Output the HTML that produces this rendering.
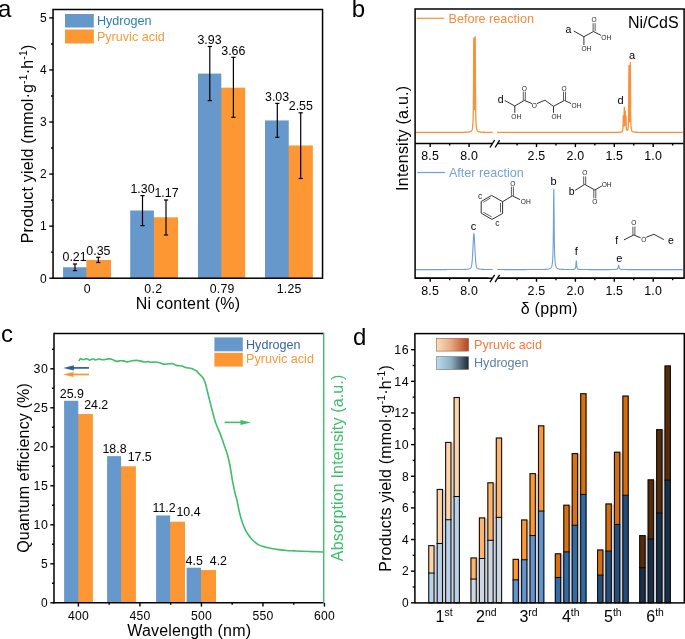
<!DOCTYPE html>
<html><head><meta charset="utf-8"><style>
html,body{margin:0;padding:0;background:#fff;}
svg{display:block;filter:blur(0.35px);}
text{font-family:"Liberation Sans", sans-serif;}
</style></head><body>
<svg width="685" height="639" viewBox="0 0 685 639" font-family='"Liberation Sans", sans-serif'>
<rect width="685" height="639" fill="#fff"/>
<text x="-2" y="17.4" font-size="24" fill="#000" text-anchor="start" >a</text>
<rect x="85.35" y="267.77" width="2" height="10.43" fill="#6798CC" />
<rect x="63.05" y="267.27" width="23.3" height="10.93" fill="#6798CC" />
<rect x="86.35" y="259.98" width="24.65" height="18.22" fill="#FD9734" />
<rect x="152.9" y="217.79" width="2" height="60.41" fill="#6798CC" />
<rect x="130.2" y="210.52" width="23.7" height="67.68" fill="#6798CC" />
<rect x="153.9" y="217.29" width="24.1" height="60.91" fill="#FD9734" />
<rect x="220.3" y="88.16" width="2" height="190.04" fill="#6798CC" />
<rect x="198" y="73.6" width="23.3" height="204.6" fill="#6798CC" />
<rect x="221.3" y="87.66" width="23.9" height="190.54" fill="#FD9734" />
<rect x="287.75" y="145.95" width="2" height="132.25" fill="#6798CC" />
<rect x="265" y="120.46" width="23.75" height="157.74" fill="#6798CC" />
<rect x="288.75" y="145.45" width="24.1" height="132.75" fill="#FD9734" />
<line x1="75" y1="264" x2="75" y2="270.6" stroke="#000" stroke-width="1.2" />
<line x1="72.9" y1="264" x2="77.1" y2="264" stroke="#000" stroke-width="1.2" />
<line x1="72.9" y1="270.6" x2="77.1" y2="270.6" stroke="#000" stroke-width="1.2" />
<line x1="98.3" y1="257.3" x2="98.3" y2="262.5" stroke="#000" stroke-width="1.2" />
<line x1="96.2" y1="257.3" x2="100.4" y2="257.3" stroke="#000" stroke-width="1.2" />
<line x1="96.2" y1="262.5" x2="100.4" y2="262.5" stroke="#000" stroke-width="1.2" />
<line x1="142.5" y1="195.6" x2="142.5" y2="225.6" stroke="#000" stroke-width="1.2" />
<line x1="140.4" y1="195.6" x2="144.6" y2="195.6" stroke="#000" stroke-width="1.2" />
<line x1="140.4" y1="225.6" x2="144.6" y2="225.6" stroke="#000" stroke-width="1.2" />
<line x1="166" y1="200" x2="166" y2="235" stroke="#000" stroke-width="1.2" />
<line x1="163.9" y1="200" x2="168.1" y2="200" stroke="#000" stroke-width="1.2" />
<line x1="163.9" y1="235" x2="168.1" y2="235" stroke="#000" stroke-width="1.2" />
<line x1="209.8" y1="46.5" x2="209.8" y2="100.6" stroke="#000" stroke-width="1.2" />
<line x1="207.7" y1="46.5" x2="211.9" y2="46.5" stroke="#000" stroke-width="1.2" />
<line x1="207.7" y1="100.6" x2="211.9" y2="100.6" stroke="#000" stroke-width="1.2" />
<line x1="233.4" y1="57.3" x2="233.4" y2="117.3" stroke="#000" stroke-width="1.2" />
<line x1="231.3" y1="57.3" x2="235.5" y2="57.3" stroke="#000" stroke-width="1.2" />
<line x1="231.3" y1="117.3" x2="235.5" y2="117.3" stroke="#000" stroke-width="1.2" />
<line x1="277.3" y1="103.4" x2="277.3" y2="137.3" stroke="#000" stroke-width="1.2" />
<line x1="275.2" y1="103.4" x2="279.4" y2="103.4" stroke="#000" stroke-width="1.2" />
<line x1="275.2" y1="137.3" x2="279.4" y2="137.3" stroke="#000" stroke-width="1.2" />
<line x1="300.7" y1="112.8" x2="300.7" y2="178.5" stroke="#000" stroke-width="1.2" />
<line x1="298.6" y1="112.8" x2="302.8" y2="112.8" stroke="#000" stroke-width="1.2" />
<line x1="298.6" y1="178.5" x2="302.8" y2="178.5" stroke="#000" stroke-width="1.2" />
<text x="74.6" y="261.4" font-size="12.4" fill="#000" text-anchor="middle" >0.21</text>
<text x="98.4" y="254.5" font-size="12.4" fill="#000" text-anchor="middle" >0.35</text>
<text x="142.5" y="193.2" font-size="12.4" fill="#000" text-anchor="middle" >1.30</text>
<text x="166.5" y="197.2" font-size="12.4" fill="#000" text-anchor="middle" >1.17</text>
<text x="209.5" y="44.1" font-size="12.4" fill="#000" text-anchor="middle" >3.93</text>
<text x="233.3" y="54.7" font-size="12.4" fill="#000" text-anchor="middle" >3.66</text>
<text x="277.1" y="100.7" font-size="12.4" fill="#000" text-anchor="middle" >3.03</text>
<text x="300.8" y="110.1" font-size="12.4" fill="#000" text-anchor="middle" >2.55</text>
<rect x="53.05" y="9.5" width="269.5" height="268.7" fill="none" stroke="#000" stroke-width="1.5"/>
<line x1="49.3" y1="278.2" x2="53" y2="278.2" stroke="#000" stroke-width="1.4" />
<text x="46.6" y="282.5" font-size="12" fill="#000" text-anchor="end" >0</text>
<line x1="51" y1="252.17" x2="53" y2="252.17" stroke="#000" stroke-width="1.4" />
<line x1="49.3" y1="226.14" x2="53" y2="226.14" stroke="#000" stroke-width="1.4" />
<text x="46.6" y="230.44" font-size="12" fill="#000" text-anchor="end" >1</text>
<line x1="51" y1="200.11" x2="53" y2="200.11" stroke="#000" stroke-width="1.4" />
<line x1="49.3" y1="174.08" x2="53" y2="174.08" stroke="#000" stroke-width="1.4" />
<text x="46.6" y="178.38" font-size="12" fill="#000" text-anchor="end" >2</text>
<line x1="51" y1="148.05" x2="53" y2="148.05" stroke="#000" stroke-width="1.4" />
<line x1="49.3" y1="122.02" x2="53" y2="122.02" stroke="#000" stroke-width="1.4" />
<text x="46.6" y="126.32" font-size="12" fill="#000" text-anchor="end" >3</text>
<line x1="51" y1="95.99" x2="53" y2="95.99" stroke="#000" stroke-width="1.4" />
<line x1="49.3" y1="69.96" x2="53" y2="69.96" stroke="#000" stroke-width="1.4" />
<text x="46.6" y="74.26" font-size="12" fill="#000" text-anchor="end" >4</text>
<line x1="51" y1="43.93" x2="53" y2="43.93" stroke="#000" stroke-width="1.4" />
<line x1="49.3" y1="17.9" x2="53" y2="17.9" stroke="#000" stroke-width="1.4" />
<text x="46.6" y="22.2" font-size="12" fill="#000" text-anchor="end" >5</text>
<text x="87.4" y="293" font-size="12.3" fill="#000" text-anchor="middle" letter-spacing="0.3">0</text>
<text x="153.3" y="293" font-size="12.3" fill="#000" text-anchor="middle" letter-spacing="0.3">0.2</text>
<text x="222.2" y="293" font-size="12.3" fill="#000" text-anchor="middle" letter-spacing="0.3">0.79</text>
<text x="289.2" y="293" font-size="12.3" fill="#000" text-anchor="middle" letter-spacing="0.3">1.25</text>
<text x="188" y="309" font-size="16" fill="#000" text-anchor="middle" letter-spacing="0.22">Ni content (%)</text>
<text x="32.6" y="143.9" font-size="16" fill="#000" text-anchor="middle" transform="rotate(-90 32.6 143.9)"  letter-spacing="0.18">Product yield (mmol·g<tspan font-size="10.4" dy="-6">-1</tspan><tspan dy="6">·h</tspan><tspan font-size="10.4" dy="-6">-1</tspan><tspan dy="6">)</tspan></text>
<rect x="65" y="14" width="28.8" height="13.5" fill="#6798CC" />
<rect x="65" y="29.5" width="28.8" height="14" fill="#FD9734" />
<text x="96.9" y="25.2" font-size="12.6" fill="#2B80AA" text-anchor="start" >Hydrogen</text>
<text x="96.9" y="40.7" font-size="12.6" fill="#F99A3A" text-anchor="start" >Pyruvic acid</text>
<text x="351.8" y="17.3" font-size="24" fill="#000" text-anchor="start" >b</text>
<polyline points="415.8,132.4 417.8,132.4 419.8,132.4 421.8,132.4 423.8,132.39 425.8,132.39 427.8,132.39 429.8,132.39 431.8,132.39 433.8,132.39 435.8,132.39 437.8,132.39 439.8,132.39 441.8,132.39 443.8,132.39 445.8,132.38 447.8,132.38 449.8,132.38 451.8,132.38 453.8,132.37 455.8,132.36 457.8,132.35 459.8,132.34 461.8,132.32 463.8,132.29 463.95,132.28 464.1,132.28 464.25,132.28 464.4,132.27 464.55,132.27 464.7,132.27 464.85,132.26 465,132.26 465.15,132.25 465.3,132.25 465.45,132.24 465.6,132.24 465.75,132.23 465.9,132.23 466.05,132.22 466.2,132.21 466.35,132.2 466.5,132.2 466.65,132.19 466.8,132.18 466.95,132.17 467.1,132.16 467.25,132.15 467.4,132.14 467.55,132.13 467.7,132.12 467.85,132.1 468,132.09 468.15,132.07 468.3,132.06 468.45,132.04 468.6,132.02 468.75,132 468.9,131.98 469.05,131.95 469.2,131.93 469.35,131.9 469.5,131.86 469.65,131.83 469.8,131.79 469.95,131.74 470.1,131.7 470.25,131.64 470.4,131.58 470.55,131.51 470.7,131.43 470.85,131.34 471,131.24 471.15,131.12 471.3,130.98 471.45,130.81 471.6,130.62 471.75,130.38 471.9,130.09 472.05,129.73 472.2,129.28 472.35,128.69 472.5,127.92 472.65,126.85 472.8,125.34 472.95,123.1 473.1,119.55 473.25,113.52 473.4,102.44 473.55,81.06 473.7,47.38 473.85,37.96 474,68.88 474.15,93.45 474.3,105.16 474.45,109.44 474.6,108.75 474.75,102.66 474.9,87.72 475.05,59.08 475.2,36.75 475.35,60.41 475.5,90.56 475.65,107.42 475.8,116.21 475.95,121.11 476.1,124.08 476.25,126 476.4,127.32 476.55,128.25 476.7,128.95 476.85,129.48 477,129.89 477.15,130.22 477.3,130.48 477.45,130.7 477.6,130.89 477.75,131.04 477.9,131.17 478.05,131.28 478.2,131.38 478.35,131.47 478.5,131.54 478.65,131.61 478.8,131.66 478.95,131.72 479.1,131.76 479.25,131.81 479.4,131.84 479.55,131.88 479.7,131.91 479.85,131.94 480,131.96 480.15,131.99 480.3,132.01 480.45,132.03 480.6,132.05 480.75,132.06 480.9,132.08 481.05,132.1 481.2,132.11 481.35,132.12 481.5,132.13 481.65,132.15 481.8,132.16 481.95,132.17 482.1,132.18 482.25,132.18 482.4,132.19 482.55,132.2 482.7,132.21 482.85,132.21 483,132.22 483.15,132.23 483.3,132.23 483.45,132.24 483.6,132.24 483.75,132.25 483.9,132.25 484.05,132.26 484.2,132.26 484.35,132.27 484.5,132.27 484.65,132.28 484.8,132.28 484.95,132.28 485.1,132.29 485.25,132.29 485.4,132.29 485.55,132.29 485.7,132.3 485.85,132.3 486,132.3 486.15,132.31 486.3,132.31 486.45,132.31 486.6,132.31 486.75,132.31 486.9,132.32 487.05,132.32 487.2,132.32 487.35,132.32 489.35,132.34 491.35,132.35 492.7,132.36" fill="none" stroke="#F7923A" stroke-width="1.3" stroke-linejoin="round"/>
<polyline points="497.1,132.37 499.1,132.38 501.1,132.38 503.1,132.38 505.1,132.39 507.1,132.39 509.1,132.39 511.1,132.39 513.1,132.39 515.1,132.39 517.1,132.39 519.1,132.39 521.1,132.39 523.1,132.39 525.1,132.39 527.1,132.39 529.1,132.39 531.1,132.4 533.1,132.4 535.1,132.4 537.1,132.4 539.1,132.4 541.1,132.4 543.1,132.4 545.1,132.4 547.1,132.4 549.1,132.4 551.1,132.4 553.1,132.4 555.1,132.4 557.1,132.4 559.1,132.4 561.1,132.4 563.1,132.4 565.1,132.4 567.1,132.4 569.1,132.4 571.1,132.4 573.1,132.4 575.1,132.4 577.1,132.4 579.1,132.4 581.1,132.39 583.1,132.39 585.1,132.39 587.1,132.39 589.1,132.39 591.1,132.39 593.1,132.39 595.1,132.39 597.1,132.39 599.1,132.39 601.1,132.39 603.1,132.38 605.1,132.38 607.1,132.38 609.1,132.37 611.1,132.37 613.1,132.36 613.25,132.36 613.4,132.35 613.55,132.35 613.7,132.35 613.85,132.35 614,132.35 614.15,132.35 614.3,132.35 614.45,132.35 614.6,132.34 614.75,132.34 614.9,132.34 615.05,132.34 615.2,132.34 615.35,132.34 615.5,132.34 615.65,132.33 615.8,132.33 615.95,132.33 616.1,132.33 616.25,132.32 616.4,132.32 616.55,132.32 616.7,132.32 616.85,132.31 617,132.31 617.15,132.31 617.3,132.31 617.45,132.3 617.6,132.3 617.75,132.29 617.9,132.29 618.05,132.29 618.2,132.28 618.35,132.28 618.5,132.27 618.65,132.27 618.8,132.26 618.95,132.25 619.1,132.24 619.25,132.24 619.4,132.23 619.55,132.22 619.7,132.21 619.85,132.2 620,132.18 620.15,132.17 620.3,132.16 620.45,132.14 620.6,132.12 620.75,132.1 620.9,132.07 621.05,132.04 621.2,132.01 621.35,131.97 621.5,131.92 621.65,131.86 621.8,131.78 621.95,131.69 622.1,131.56 622.25,131.39 622.4,131.15 622.55,130.79 622.7,130.18 622.85,129.07 623,126.72 623.15,121.38 623.3,115.53 623.45,120.71 623.6,125.23 623.75,126.34 623.9,125.19 624.05,120.86 624.2,110.82 624.35,107.26 624.5,117.94 624.65,123.7 624.8,125.32 624.95,124.35 625.1,119.81 625.25,111.12 625.4,113.73 625.55,121.19 625.7,123.1 625.85,120.18 626,116 626.15,121.52 626.3,126.45 626.45,128.61 626.6,129.6 626.75,130.1 626.9,130.35 627.05,130.46 627.2,130.47 627.35,130.39 627.5,130.23 627.65,129.95 627.8,129.53 627.95,128.89 628.1,127.89 628.25,126.25 628.4,123.31 628.55,117.43 628.7,104.07 628.85,75.4 629,65.33 629.15,95.63 629.3,112.74 629.45,119.44 629.6,121.7 629.75,121.33 629.9,118.03 630.05,108.99 630.2,86.72 630.35,62.41 630.5,87.33 630.65,110.28 630.8,120.21 630.95,124.78 631.1,127.18 631.25,128.58 631.4,129.47 631.55,130.07 631.7,130.5 631.85,130.81 632,131.05 632.15,131.24 632.3,131.39 632.45,131.51 632.6,131.61 632.75,131.69 632.9,131.76 633.05,131.82 633.2,131.87 633.35,131.91 633.5,131.95 633.65,131.99 633.8,132.02 633.95,132.04 634.1,132.07 634.25,132.09 634.4,132.11 634.55,132.12 634.7,132.14 634.85,132.16 635,132.17 635.15,132.18 635.3,132.19 635.45,132.2 635.6,132.21 635.75,132.22 635.9,132.23 636.05,132.24 636.2,132.24 636.35,132.25 636.5,132.26 636.65,132.26 636.8,132.27 636.95,132.27 637.1,132.28 637.25,132.28 637.4,132.29 637.55,132.29 637.7,132.29 637.85,132.3 638,132.3 638.15,132.31 638.3,132.31 638.45,132.31 638.6,132.31 638.75,132.32 638.9,132.32 639.05,132.32 639.2,132.32 639.35,132.33 639.5,132.33 639.65,132.33 639.8,132.33 639.95,132.33 640.1,132.34 640.25,132.34 640.4,132.34 640.55,132.34 640.7,132.34 640.85,132.34 641,132.34 641.15,132.35 641.3,132.35 641.45,132.35 641.6,132.35 641.75,132.35 641.9,132.35 642.05,132.35 642.2,132.35 642.35,132.36 642.5,132.36 644.5,132.37 646.5,132.37 648.5,132.38 650.5,132.38 652.5,132.39 654.5,132.39 656.5,132.39 658.5,132.39 660.5,132.39 662.5,132.39 664.5,132.39 666.5,132.39 668.5,132.39 670.5,132.39 672.5,132.4 674.5,132.4 676.5,132.4 678.5,132.4 680.5,132.4 682.5,132.4 682.8,132.4" fill="none" stroke="#F7923A" stroke-width="1.3" stroke-linejoin="round"/>
<polyline points="415.8,269.59 417.8,269.59 419.8,269.59 421.8,269.59 423.8,269.59 425.8,269.59 427.8,269.59 429.8,269.59 431.8,269.59 433.8,269.59 435.8,269.59 437.8,269.59 439.8,269.58 441.8,269.58 443.8,269.58 445.8,269.58 447.8,269.57 449.8,269.57 451.8,269.56 453.8,269.56 455.8,269.55 457.8,269.53 459.8,269.51 461.8,269.49 463.8,269.44 463.95,269.43 464.1,269.43 464.25,269.42 464.4,269.42 464.55,269.41 464.7,269.4 464.85,269.4 465,269.39 465.15,269.38 465.3,269.38 465.45,269.37 465.6,269.36 465.75,269.35 465.9,269.34 466.05,269.33 466.2,269.32 466.35,269.31 466.5,269.3 466.65,269.29 466.8,269.28 466.95,269.26 467.1,269.25 467.25,269.23 467.4,269.22 467.55,269.2 467.7,269.18 467.85,269.16 468,269.14 468.15,269.11 468.3,269.09 468.45,269.06 468.6,269.03 468.75,269 468.9,268.96 469.05,268.93 469.2,268.89 469.35,268.84 469.5,268.79 469.65,268.74 469.8,268.68 469.95,268.61 470.1,268.53 470.25,268.44 470.4,268.33 470.55,268.2 470.7,268.05 470.85,267.85 471,267.6 471.15,267.28 471.3,266.86 471.45,266.32 471.6,265.62 471.75,264.72 471.9,263.59 472.05,262.19 472.2,260.5 472.35,258.48 472.5,256.14 472.65,253.5 472.8,250.61 472.95,247.53 473.1,244.38 473.25,241.3 473.4,238.47 473.55,236.12 473.7,234.45 473.85,233.65 474,233.81 474.15,234.92 474.3,236.84 474.45,239.37 474.6,242.3 474.75,245.43 474.9,248.57 475.05,251.6 475.2,254.42 475.35,256.96 475.5,259.19 475.65,261.1 475.8,262.69 475.95,264 476.1,265.04 476.25,265.87 476.4,266.51 476.55,267.01 476.7,267.39 476.85,267.69 477,267.92 477.15,268.1 477.3,268.25 477.45,268.37 477.6,268.47 477.75,268.56 477.9,268.63 478.05,268.7 478.2,268.75 478.35,268.81 478.5,268.86 478.65,268.9 478.8,268.94 478.95,268.98 479.1,269.01 479.25,269.04 479.4,269.07 479.55,269.1 479.7,269.12 479.85,269.14 480,269.16 480.15,269.18 480.3,269.2 480.45,269.22 480.6,269.24 480.75,269.25 480.9,269.27 481.05,269.28 481.2,269.29 481.35,269.3 481.5,269.31 481.65,269.33 481.8,269.34 481.95,269.34 482.1,269.35 482.25,269.36 482.4,269.37 482.55,269.38 482.7,269.39 482.85,269.39 483,269.4 483.15,269.41 483.3,269.41 483.45,269.42 483.6,269.42 483.75,269.43 483.9,269.43 484.05,269.44 484.2,269.44 484.35,269.45 484.5,269.45 484.65,269.45 484.8,269.46 484.95,269.46 485.1,269.47 485.25,269.47 485.4,269.47 485.55,269.48 485.7,269.48 485.85,269.48 486,269.48 488,269.51 490,269.53 492,269.55 492.7,269.55" fill="none" stroke="#6F9FD6" stroke-width="1.1" stroke-linejoin="round"/>
<polyline points="497.1,269.56 499.1,269.57 501.1,269.57 503.1,269.57 505.1,269.58 507.1,269.58 509.1,269.58 511.1,269.58 513.1,269.58 515.1,269.58 517.1,269.58 519.1,269.58 521.1,269.58 523.1,269.58 525.1,269.58 527.1,269.57 529.1,269.57 531.1,269.57 533.1,269.56 535.1,269.55 537.1,269.54 539.1,269.53 541.1,269.51 543.1,269.47 543.25,269.47 543.4,269.46 543.55,269.46 543.7,269.45 543.85,269.45 544,269.45 544.15,269.44 544.3,269.44 544.45,269.43 544.6,269.42 544.75,269.42 544.9,269.41 545.05,269.41 545.2,269.4 545.35,269.39 545.5,269.39 545.65,269.38 545.8,269.37 545.95,269.36 546.1,269.35 546.25,269.34 546.4,269.33 546.55,269.32 546.7,269.31 546.85,269.3 547,269.28 547.15,269.27 547.3,269.25 547.45,269.24 547.6,269.22 547.75,269.2 547.9,269.18 548.05,269.16 548.2,269.14 548.35,269.11 548.5,269.08 548.65,269.05 548.8,269.02 548.95,268.99 549.1,268.95 549.25,268.9 549.4,268.86 549.55,268.8 549.7,268.75 549.85,268.68 550,268.61 550.15,268.53 550.3,268.43 550.45,268.33 550.6,268.21 550.75,268.07 550.9,267.91 551.05,267.73 551.2,267.51 551.35,267.26 551.5,266.95 551.65,266.59 551.8,266.14 551.95,265.59 552.1,264.89 552.25,264 552.4,262.84 552.55,261.3 552.7,259.19 552.85,256.22 553,251.92 553.15,245.5 553.3,235.75 553.45,221.32 553.6,202.91 553.75,188.94 553.9,192.18 554.05,209.19 554.2,226.7 554.35,239.46 554.5,247.94 554.65,253.54 554.8,257.33 554.95,259.97 555.1,261.86 555.25,263.26 555.4,264.32 555.55,265.14 555.7,265.78 555.85,266.3 556,266.72 556.15,267.06 556.3,267.35 556.45,267.59 556.6,267.79 556.75,267.97 556.9,268.12 557.05,268.25 557.2,268.36 557.35,268.46 557.5,268.55 557.65,268.63 557.8,268.7 557.95,268.76 558.1,268.82 558.25,268.87 558.4,268.92 558.55,268.96 558.7,269 558.85,269.03 559,269.06 559.15,269.09 559.3,269.12 559.45,269.14 559.6,269.17 559.75,269.19 559.9,269.21 560.05,269.22 560.2,269.24 560.35,269.26 560.5,269.27 560.65,269.29 560.8,269.3 560.95,269.31 561.1,269.32 561.25,269.33 561.4,269.34 561.55,269.35 561.7,269.36 561.85,269.37 562,269.38 562.15,269.38 562.3,269.39 562.45,269.4 562.6,269.4 562.75,269.41 562.9,269.42 563.05,269.42 563.2,269.43 563.35,269.43 563.5,269.44 563.65,269.44 563.8,269.44 563.95,269.45 564.1,269.45 564.25,269.46 564.4,269.46 564.55,269.46 564.7,269.47 564.85,269.47 565,269.47 565.15,269.47 565.3,269.48 565.45,269.48 565.6,269.48 565.75,269.48 565.9,269.49 566.05,269.49 566.2,269.49 566.35,269.49 566.5,269.49 566.65,269.49 566.8,269.5 566.95,269.5 567.1,269.5 567.25,269.5 567.4,269.5 567.55,269.5 567.7,269.5 567.85,269.5 568,269.51 568.15,269.51 568.3,269.51 568.45,269.51 568.6,269.51 568.75,269.51 568.9,269.51 569.05,269.51 569.2,269.51 569.35,269.51 569.5,269.51 569.65,269.51 569.8,269.51 569.95,269.51 570.1,269.51 570.25,269.51 570.4,269.5 570.55,269.5 570.7,269.5 570.85,269.5 571,269.5 571.15,269.5 571.3,269.49 571.45,269.49 571.6,269.49 571.75,269.48 571.9,269.48 572.05,269.48 572.2,269.47 572.35,269.46 572.5,269.46 572.65,269.45 572.8,269.44 572.95,269.43 573.1,269.42 573.25,269.41 573.4,269.39 573.55,269.37 573.7,269.35 573.85,269.33 574,269.3 574.15,269.26 574.3,269.22 574.45,269.16 574.6,269.09 574.75,269 574.9,268.89 575.05,268.73 575.2,268.52 575.35,268.21 575.5,267.77 575.65,267.1 575.8,266.06 575.95,264.47 576.1,262.37 576.25,260.71 576.4,261.1 576.55,263.1 576.7,265.07 576.85,266.46 577,267.36 577.15,267.94 577.3,268.33 577.45,268.6 577.6,268.79 577.75,268.94 577.9,269.04 578.05,269.13 578.2,269.19 578.35,269.24 578.5,269.29 578.65,269.32 578.8,269.35 578.95,269.37 579.1,269.4 579.25,269.41 579.4,269.43 579.55,269.44 579.7,269.45 579.85,269.46 580,269.47 580.15,269.48 580.3,269.49 580.45,269.49 580.6,269.5 580.75,269.51 580.9,269.51 581.05,269.51 581.2,269.52 581.35,269.52 581.5,269.53 581.65,269.53 581.8,269.53 581.95,269.53 582.1,269.54 582.25,269.54 582.4,269.54 582.55,269.54 582.7,269.55 582.85,269.55 583,269.55 583.15,269.55 583.3,269.55 583.45,269.55 583.6,269.55 583.75,269.56 583.9,269.56 584.05,269.56 584.2,269.56 584.35,269.56 584.5,269.56 584.65,269.56 584.8,269.56 584.95,269.56 585.1,269.56 585.25,269.56 585.4,269.57 585.55,269.57 585.7,269.57 585.85,269.57 586,269.57 586.15,269.57 586.3,269.57 586.45,269.57 586.6,269.57 586.75,269.57 586.9,269.57 587.05,269.57 587.2,269.57 587.35,269.57 587.5,269.57 587.65,269.57 587.8,269.57 587.95,269.57 588.1,269.57 588.25,269.58 588.4,269.58 590.4,269.58 592.4,269.58 594.4,269.58 596.4,269.58 598.4,269.59 600.4,269.59 602.4,269.59 604.4,269.58 606.4,269.58 608.4,269.58 608.55,269.58 608.7,269.58 608.85,269.58 609,269.58 609.15,269.58 609.3,269.58 609.45,269.58 609.6,269.58 609.75,269.58 609.9,269.58 610.05,269.58 610.2,269.57 610.35,269.57 610.5,269.57 610.65,269.57 610.8,269.57 610.95,269.57 611.1,269.57 611.25,269.57 611.4,269.57 611.55,269.57 611.7,269.57 611.85,269.56 612,269.56 612.15,269.56 612.3,269.56 612.45,269.56 612.6,269.56 612.75,269.56 612.9,269.55 613.05,269.55 613.2,269.55 613.35,269.55 613.5,269.54 613.65,269.54 613.8,269.54 613.95,269.53 614.1,269.53 614.25,269.52 614.4,269.52 614.55,269.51 614.7,269.51 614.85,269.5 615,269.49 615.15,269.49 615.3,269.48 615.45,269.46 615.6,269.45 615.75,269.44 615.9,269.42 616.05,269.4 616.2,269.38 616.35,269.35 616.5,269.31 616.65,269.27 616.8,269.22 616.95,269.15 617.1,269.07 617.25,268.97 617.4,268.83 617.55,268.65 617.7,268.4 617.85,268.06 618,267.59 618.15,266.96 618.3,266.2 618.45,265.5 618.6,265.19 618.75,265.5 618.9,266.2 619.05,266.96 619.2,267.59 619.35,268.06 619.5,268.4 619.65,268.65 619.8,268.83 619.95,268.97 620.1,269.07 620.25,269.16 620.4,269.22 620.55,269.27 620.7,269.31 620.85,269.35 621,269.38 621.15,269.4 621.3,269.42 621.45,269.44 621.6,269.45 621.75,269.47 621.9,269.48 622.05,269.49 622.2,269.5 622.35,269.5 622.5,269.51 622.65,269.52 622.8,269.52 622.95,269.53 623.1,269.53 623.25,269.53 623.4,269.54 623.55,269.54 623.7,269.55 623.85,269.55 624,269.55 624.15,269.55 624.3,269.56 624.45,269.56 624.6,269.56 624.75,269.56 624.9,269.56 625.05,269.56 625.2,269.57 625.35,269.57 625.5,269.57 625.65,269.57 625.8,269.57 625.95,269.57 626.1,269.57 626.25,269.57 626.4,269.57 626.55,269.58 626.7,269.58 626.85,269.58 627,269.58 627.15,269.58 627.3,269.58 627.45,269.58 627.6,269.58 627.75,269.58 627.9,269.58 628.05,269.58 628.2,269.58 628.35,269.58 628.5,269.58 628.65,269.58 628.8,269.58 628.95,269.58 629.1,269.58 629.25,269.58 629.4,269.58 629.55,269.59 629.7,269.59 629.85,269.59 630,269.59 630.15,269.59 630.3,269.59 630.45,269.59 630.6,269.59 630.75,269.59 632.75,269.59 634.75,269.59 636.75,269.59 638.75,269.59 640.75,269.59 642.75,269.59 644.75,269.6 646.75,269.6 648.75,269.6 650.75,269.6 652.75,269.6 654.75,269.6 656.75,269.6 658.75,269.6 660.75,269.6 662.75,269.6 664.75,269.6 666.75,269.6 668.75,269.6 670.75,269.6 672.75,269.6 674.75,269.6 676.75,269.6 678.75,269.6 680.75,269.6 682.75,269.6 682.8,269.6" fill="none" stroke="#6F9FD6" stroke-width="1.1" stroke-linejoin="round"/>
<rect x="415.1" y="9.0" width="269.0" height="269.2" fill="none" stroke="#000" stroke-width="1.5"/>
<rect x="488.5" y="142.3" width="11" height="2.4" fill="#fff"/>
<line x1="415" y1="143.5" x2="492.4" y2="143.5" stroke="#000" stroke-width="1.5" />
<line x1="497.5" y1="143.5" x2="683.5" y2="143.5" stroke="#000" stroke-width="1.5" />
<line x1="490" y1="147.5" x2="494.6" y2="140.1" stroke="#000" stroke-width="1.3" />
<line x1="495.1" y1="147.5" x2="499.6" y2="140.1" stroke="#000" stroke-width="1.3" />
<line x1="430.2" y1="143.5" x2="430.2" y2="147.1" stroke="#000" stroke-width="1.4" />
<text x="430.2" y="160.4" font-size="12.4" fill="#000" text-anchor="middle" letter-spacing="0.2">8.5</text>
<line x1="469.1" y1="143.5" x2="469.1" y2="147.1" stroke="#000" stroke-width="1.4" />
<text x="469.1" y="160.4" font-size="12.4" fill="#000" text-anchor="middle" letter-spacing="0.2">8.0</text>
<line x1="536.5" y1="143.5" x2="536.5" y2="147.1" stroke="#000" stroke-width="1.4" />
<text x="536.5" y="160.4" font-size="12.4" fill="#000" text-anchor="middle" letter-spacing="0.2">2.5</text>
<line x1="575.4" y1="143.5" x2="575.4" y2="147.1" stroke="#000" stroke-width="1.4" />
<text x="575.4" y="160.4" font-size="12.4" fill="#000" text-anchor="middle" letter-spacing="0.2">2.0</text>
<line x1="614.3" y1="143.5" x2="614.3" y2="147.1" stroke="#000" stroke-width="1.4" />
<text x="614.3" y="160.4" font-size="12.4" fill="#000" text-anchor="middle" letter-spacing="0.2">1.5</text>
<line x1="653.2" y1="143.5" x2="653.2" y2="147.1" stroke="#000" stroke-width="1.4" />
<text x="653.2" y="160.4" font-size="12.4" fill="#000" text-anchor="middle" letter-spacing="0.2">1.0</text>
<line x1="449.65" y1="143.5" x2="449.65" y2="145.5" stroke="#000" stroke-width="1.4" />
<line x1="517.05" y1="143.5" x2="517.05" y2="145.5" stroke="#000" stroke-width="1.4" />
<line x1="555.95" y1="143.5" x2="555.95" y2="145.5" stroke="#000" stroke-width="1.4" />
<line x1="594.85" y1="143.5" x2="594.85" y2="145.5" stroke="#000" stroke-width="1.4" />
<line x1="633.75" y1="143.5" x2="633.75" y2="145.5" stroke="#000" stroke-width="1.4" />
<line x1="672.65" y1="143.5" x2="672.65" y2="145.5" stroke="#000" stroke-width="1.4" />
<rect x="488.5" y="277" width="11" height="2.4" fill="#fff"/>
<line x1="415" y1="278.2" x2="492.4" y2="278.2" stroke="#000" stroke-width="1.5" />
<line x1="497.5" y1="278.2" x2="683.5" y2="278.2" stroke="#000" stroke-width="1.5" />
<line x1="490" y1="282.2" x2="494.6" y2="274.8" stroke="#000" stroke-width="1.3" />
<line x1="495.1" y1="282.2" x2="499.6" y2="274.8" stroke="#000" stroke-width="1.3" />
<line x1="430.2" y1="278.2" x2="430.2" y2="281.8" stroke="#000" stroke-width="1.4" />
<text x="430.2" y="295.1" font-size="12.4" fill="#000" text-anchor="middle" letter-spacing="0.2">8.5</text>
<line x1="469.1" y1="278.2" x2="469.1" y2="281.8" stroke="#000" stroke-width="1.4" />
<text x="469.1" y="295.1" font-size="12.4" fill="#000" text-anchor="middle" letter-spacing="0.2">8.0</text>
<line x1="536.5" y1="278.2" x2="536.5" y2="281.8" stroke="#000" stroke-width="1.4" />
<text x="536.5" y="295.1" font-size="12.4" fill="#000" text-anchor="middle" letter-spacing="0.2">2.5</text>
<line x1="575.4" y1="278.2" x2="575.4" y2="281.8" stroke="#000" stroke-width="1.4" />
<text x="575.4" y="295.1" font-size="12.4" fill="#000" text-anchor="middle" letter-spacing="0.2">2.0</text>
<line x1="614.3" y1="278.2" x2="614.3" y2="281.8" stroke="#000" stroke-width="1.4" />
<text x="614.3" y="295.1" font-size="12.4" fill="#000" text-anchor="middle" letter-spacing="0.2">1.5</text>
<line x1="653.2" y1="278.2" x2="653.2" y2="281.8" stroke="#000" stroke-width="1.4" />
<text x="653.2" y="295.1" font-size="12.4" fill="#000" text-anchor="middle" letter-spacing="0.2">1.0</text>
<line x1="449.65" y1="278.2" x2="449.65" y2="280.2" stroke="#000" stroke-width="1.4" />
<line x1="517.05" y1="278.2" x2="517.05" y2="280.2" stroke="#000" stroke-width="1.4" />
<line x1="555.95" y1="278.2" x2="555.95" y2="280.2" stroke="#000" stroke-width="1.4" />
<line x1="594.85" y1="278.2" x2="594.85" y2="280.2" stroke="#000" stroke-width="1.4" />
<line x1="633.75" y1="278.2" x2="633.75" y2="280.2" stroke="#000" stroke-width="1.4" />
<line x1="672.65" y1="278.2" x2="672.65" y2="280.2" stroke="#000" stroke-width="1.4" />
<text x="549.3" y="314.3" font-size="16" fill="#000" text-anchor="middle" letter-spacing="0.3">δ (ppm)</text>
<text x="408" y="138.3" font-size="16" fill="#000" text-anchor="middle" transform="rotate(-90 408 138.3)"  letter-spacing="0.24">Intensity (a.u.)</text>
<line x1="416.6" y1="18.3" x2="444.2" y2="18.3" stroke="#F7923A" stroke-width="1.2" />
<text x="448.5" y="23.1" font-size="12.6" fill="#F68B3E" text-anchor="start" >Before reaction</text>
<line x1="417.3" y1="172.5" x2="445.2" y2="172.5" stroke="#6F9FD6" stroke-width="1.2" />
<text x="448.9" y="176.8" font-size="12.6" fill="#74A2D8" text-anchor="start" >After reaction</text>
<text x="628" y="28.2" font-size="16" fill="#000" text-anchor="start" >Ni/CdS</text>
<text x="632" y="58.6" font-size="11" fill="#000" text-anchor="middle" >a</text>
<text x="620.6" y="104.4" font-size="11" fill="#000" text-anchor="middle" >d</text>
<text x="473.6" y="229.6" font-size="11" fill="#000" text-anchor="middle" >c</text>
<text x="553.5" y="185.2" font-size="11" fill="#000" text-anchor="middle" >b</text>
<text x="576.2" y="255.4" font-size="11" fill="#000" text-anchor="middle" >f</text>
<text x="619.3" y="262.2" font-size="11" fill="#000" text-anchor="middle" >e</text>
<text x="568.5" y="32.6" font-size="10.5" fill="#000" text-anchor="middle" >a</text>
<polyline points="573.8,31 583.9,36.7 593.5,31.5 601,35.4" fill="none" stroke="#1a1a1a" stroke-width="0.9"/>
<line x1="583.9" y1="36.7" x2="583.9" y2="45" stroke="#1a1a1a" stroke-width="0.9" />
<line x1="593.1" y1="23.1" x2="593.1" y2="31.2" stroke="#1a1a1a" stroke-width="0.7" />
<line x1="595.1" y1="23.1" x2="595.1" y2="31.2" stroke="#1a1a1a" stroke-width="0.7" />
<text x="594" y="22.3" font-size="6.6" fill="#1a1a1a" text-anchor="middle" >O</text>
<text x="606.3" y="39.6" font-size="6.6" fill="#1a1a1a" text-anchor="middle" >OH</text>
<text x="586.4" y="50.7" font-size="6.6" fill="#1a1a1a" text-anchor="middle" >OH</text>
<text x="500.6" y="103.3" font-size="10.5" fill="#000" text-anchor="middle" >d</text>
<polyline points="504.6,100.4 514.8,106 524.3,100.4 532,103.6" fill="none" stroke="#1a1a1a" stroke-width="0.9"/>
<polyline points="536.9,103.6 544.9,100.2 553.5,106.3 564.5,100.4 571.2,103.6" fill="none" stroke="#1a1a1a" stroke-width="0.9"/>
<line x1="514.8" y1="106" x2="514.8" y2="112.8" stroke="#1a1a1a" stroke-width="0.9" />
<line x1="553.5" y1="106.3" x2="553.5" y2="112.8" stroke="#1a1a1a" stroke-width="0.9" />
<line x1="523.3" y1="91.7" x2="523.3" y2="100.4" stroke="#1a1a1a" stroke-width="0.7" />
<line x1="525.3" y1="91.7" x2="525.3" y2="100.4" stroke="#1a1a1a" stroke-width="0.7" />
<line x1="563.5" y1="91.7" x2="563.5" y2="100.4" stroke="#1a1a1a" stroke-width="0.7" />
<line x1="565.5" y1="91.7" x2="565.5" y2="100.4" stroke="#1a1a1a" stroke-width="0.7" />
<text x="524.3" y="91" font-size="6.6" fill="#1a1a1a" text-anchor="middle" >O</text>
<text x="564.1" y="91" font-size="6.6" fill="#1a1a1a" text-anchor="middle" >O</text>
<text x="534.2" y="108" font-size="6.6" fill="#1a1a1a" text-anchor="middle" >O</text>
<text x="576.5" y="108" font-size="6.6" fill="#1a1a1a" text-anchor="middle" >OH</text>
<text x="516.3" y="119.4" font-size="6.6" fill="#1a1a1a" text-anchor="middle" >OH</text>
<text x="556.4" y="119.4" font-size="6.6" fill="#1a1a1a" text-anchor="middle" >OH</text>
<polyline points="491.6,195.4 502.6,201.7 502.6,213.5 491.9,219.4 481.2,213.2 481.2,201.5 491.6,195.4" fill="none" stroke="#1a1a1a" stroke-width="0.9"/>
<line x1="490.5" y1="197.9" x2="483.4" y2="202.3" stroke="#1a1a1a" stroke-width="0.7" />
<line x1="500.5" y1="203" x2="500.5" y2="212.3" stroke="#1a1a1a" stroke-width="0.7" />
<line x1="483.3" y1="212.2" x2="491.8" y2="217" stroke="#1a1a1a" stroke-width="0.7" />
<polyline points="502.6,201.7 512.4,195.8 520,199.6" fill="none" stroke="#1a1a1a" stroke-width="0.9"/>
<line x1="511.4" y1="186.6" x2="511.4" y2="195.8" stroke="#1a1a1a" stroke-width="0.7" />
<line x1="513.4" y1="186.6" x2="513.4" y2="195.8" stroke="#1a1a1a" stroke-width="0.7" />
<text x="512.7" y="185.6" font-size="6.6" fill="#1a1a1a" text-anchor="middle" >O</text>
<text x="525.7" y="204" font-size="6.6" fill="#1a1a1a" text-anchor="middle" >OH</text>
<text x="480.2" y="199.4" font-size="8.6" fill="#1a1a1a" text-anchor="middle" >c</text>
<text x="497.3" y="226.4" font-size="8.6" fill="#1a1a1a" text-anchor="middle" >c</text>
<text x="571.7" y="194.8" font-size="10.5" fill="#000" text-anchor="middle" >b</text>
<polyline points="575,190.4 584.7,184.4 594.8,190 601.8,186" fill="none" stroke="#1a1a1a" stroke-width="0.9"/>
<line x1="583.7" y1="176.4" x2="583.7" y2="184.4" stroke="#1a1a1a" stroke-width="0.7" />
<line x1="585.7" y1="176.4" x2="585.7" y2="184.4" stroke="#1a1a1a" stroke-width="0.7" />
<line x1="593.8" y1="190" x2="593.8" y2="198.3" stroke="#1a1a1a" stroke-width="0.7" />
<line x1="595.8" y1="190" x2="595.8" y2="198.3" stroke="#1a1a1a" stroke-width="0.7" />
<text x="584.8" y="175" font-size="6.6" fill="#1a1a1a" text-anchor="middle" >O</text>
<text x="594.8" y="203.5" font-size="6.6" fill="#1a1a1a" text-anchor="middle" >O</text>
<text x="606.6" y="186.5" font-size="6.6" fill="#1a1a1a" text-anchor="middle" >OH</text>
<text x="616.6" y="243.6" font-size="10.5" fill="#000" text-anchor="middle" >f</text>
<text x="670.8" y="244.2" font-size="10.5" fill="#000" text-anchor="middle" >e</text>
<polyline points="623.9,239.9 633.9,234.9 640.6,237.9" fill="none" stroke="#1a1a1a" stroke-width="0.9"/>
<polyline points="646.3,237.2 653.9,234.3 663.8,239.6" fill="none" stroke="#1a1a1a" stroke-width="0.9"/>
<line x1="632.9" y1="226.6" x2="632.9" y2="234.9" stroke="#1a1a1a" stroke-width="0.7" />
<line x1="634.9" y1="226.6" x2="634.9" y2="234.9" stroke="#1a1a1a" stroke-width="0.7" />
<text x="633.8" y="225.3" font-size="6.6" fill="#1a1a1a" text-anchor="middle" >O</text>
<text x="643.7" y="242.3" font-size="6.6" fill="#1a1a1a" text-anchor="middle" >O</text>
<text x="1" y="342.3" font-size="24" fill="#000" text-anchor="start" >c</text>
<rect x="77.3" y="414.54" width="2" height="188.26" fill="#6798CC" />
<rect x="64.1" y="400.78" width="14.2" height="202.02" fill="#6798CC" />
<rect x="78.3" y="414.04" width="14.6" height="188.76" fill="#FD9734" />
<rect x="120.1" y="466.8" width="2" height="136" fill="#6798CC" />
<rect x="107.1" y="456.16" width="14" height="146.64" fill="#6798CC" />
<rect x="121.1" y="466.3" width="14.8" height="136.5" fill="#FD9734" />
<rect x="169.1" y="522.18" width="2" height="80.62" fill="#6798CC" />
<rect x="156.1" y="515.44" width="14" height="87.36" fill="#6798CC" />
<rect x="170.1" y="521.68" width="14.9" height="81.12" fill="#FD9734" />
<rect x="200" y="570.54" width="2" height="32.26" fill="#6798CC" />
<rect x="186.6" y="567.7" width="14.4" height="35.1" fill="#6798CC" />
<rect x="201" y="570.04" width="15" height="32.76" fill="#FD9734" />
<text x="71.9" y="397.7" font-size="12.4" fill="#000" text-anchor="middle" >25.9</text>
<text x="96.2" y="408.9" font-size="12.4" fill="#000" text-anchor="middle" >24.2</text>
<text x="114.5" y="452.9" font-size="12.4" fill="#000" text-anchor="middle" >18.8</text>
<text x="139.7" y="460.9" font-size="12.4" fill="#000" text-anchor="middle" >17.5</text>
<text x="164.1" y="512.4" font-size="12.4" fill="#000" text-anchor="middle" >11.2</text>
<text x="188.5" y="515.8" font-size="12.4" fill="#000" text-anchor="middle" >10.4</text>
<text x="194.2" y="564.8" font-size="12.4" fill="#000" text-anchor="middle" >4.5</text>
<text x="218.4" y="564.8" font-size="12.4" fill="#000" text-anchor="middle" >4.2</text>
<path d="M78.9,360.9 C79.17,360.5 79.9,358.72 80.5,358.5 C81.1,358.28 81.92,359.43 82.5,359.6 C83.08,359.77 83.42,359.63 84,359.5 C84.58,359.37 85.42,358.88 86,358.8 C86.58,358.72 86.85,358.77 87.5,359 C88.15,359.23 89.23,360.17 89.9,360.2 C90.57,360.23 90.92,359.4 91.5,359.2 C92.08,359 92.7,358.87 93.4,359 C94.1,359.13 95.02,359.95 95.7,360 C96.38,360.05 96.92,359.47 97.5,359.3 C98.08,359.13 98.45,358.92 99.2,359 C99.95,359.08 101.03,359.72 102,359.8 C102.97,359.88 104,359.65 105,359.5 C106,359.35 107.02,358.98 108,358.9 C108.98,358.82 109.98,358.8 110.9,359 C111.82,359.2 112.53,359.7 113.5,360.1 C114.47,360.5 115.62,361.28 116.7,361.4 C117.78,361.52 118.83,360.88 120,360.8 C121.17,360.72 122.7,360.75 123.7,360.9 C124.7,361.05 125.22,361.55 126,361.7 C126.78,361.85 127.4,361.95 128.4,361.8 C129.4,361.65 130.63,361.03 132,360.8 C133.37,360.57 135.25,360.38 136.6,360.4 C137.95,360.42 138.73,360.63 140.1,360.9 C141.47,361.17 143.48,361.88 144.8,362 C146.12,362.12 146.83,361.55 148,361.6 C149.17,361.65 150.63,362.23 151.8,362.3 C152.97,362.37 153.83,361.97 155,362 C156.17,362.03 157.72,362.27 158.8,362.5 C159.88,362.73 160.53,363.12 161.5,363.4 C162.47,363.68 163.43,364.13 164.6,364.2 C165.77,364.27 167.13,363.88 168.5,363.8 C169.87,363.72 171.68,363.52 172.8,363.7 C173.92,363.88 174.42,364.58 175.2,364.9 C175.98,365.22 176.35,365.42 177.5,365.6 C178.65,365.78 180.93,365.73 182.1,366 C183.27,366.27 183.72,366.92 184.5,367.2 C185.28,367.48 185.63,367.5 186.8,367.7 C187.97,367.9 190.3,368.08 191.5,368.4 C192.7,368.72 193.22,369.22 194,369.6 C194.78,369.98 195.43,370.07 196.2,370.7 C196.97,371.33 197.8,372.58 198.6,373.4 C199.4,374.22 200.28,374.88 201,375.6 C201.72,376.32 202.35,376.88 202.9,377.7 C203.45,378.52 203.87,379.48 204.3,380.5 C204.73,381.52 205.02,382.13 205.5,383.8 C205.98,385.47 206.63,388.22 207.2,390.5 C207.77,392.78 208.33,395.18 208.9,397.5 C209.47,399.82 210.02,402.1 210.6,404.4 C211.18,406.7 211.82,409.1 212.4,411.3 C212.98,413.5 213.53,415.6 214.1,417.6 C214.67,419.6 215.15,421.47 215.8,423.3 C216.45,425.13 217.28,426.88 218,428.6 C218.72,430.32 219.38,431.78 220.1,433.6 C220.82,435.42 221.58,437.48 222.3,439.5 C223.02,441.52 223.75,443.82 224.4,445.7 C225.05,447.58 225.63,449.08 226.2,450.8 C226.77,452.52 227.3,454.13 227.8,456 C228.3,457.87 228.77,460 229.2,462 C229.63,464 230.03,466 230.4,468 C230.77,470 231.07,471.92 231.4,474 C231.73,476.08 232.07,478.62 232.4,480.5 C232.73,482.38 232.97,483.22 233.4,485.3 C233.83,487.38 234.4,490.43 235,493 C235.6,495.57 236.37,497.95 237,500.7 C237.63,503.45 238.17,506.7 238.8,509.5 C239.43,512.3 240.1,515.05 240.8,517.5 C241.5,519.95 242.23,522.15 243,524.2 C243.77,526.25 244.52,528.03 245.4,529.8 C246.28,531.57 247.27,533.27 248.3,534.8 C249.33,536.33 250.43,537.73 251.6,539 C252.77,540.27 254.03,541.38 255.3,542.4 C256.57,543.42 257.58,544.33 259.2,545.1 C260.82,545.87 262.95,546.43 265,547 C267.05,547.57 269.25,548.07 271.5,548.5 C273.75,548.93 276.03,549.27 278.5,549.6 C280.97,549.93 283.72,550.28 286.3,550.5 C288.88,550.72 291.45,550.78 294,550.9 C296.55,551.02 298.6,551.08 301.6,551.2 C304.6,551.32 308.42,551.47 312,551.6 C315.58,551.73 321.25,551.93 323.1,552" fill="none" stroke="#3DBE6B" stroke-width="1.6" stroke-linejoin="round"/>
<line x1="54" y1="333.5" x2="323.6" y2="333.5" stroke="#000" stroke-width="1.5" />
<line x1="54" y1="332.75" x2="54" y2="603.5" stroke="#000" stroke-width="1.5" />
<line x1="53.3" y1="602.8" x2="323.6" y2="602.8" stroke="#000" stroke-width="1.5" />
<line x1="323.7" y1="332.75" x2="323.7" y2="602.8" stroke="#3DBE6B" stroke-width="1.4" />
<line x1="50.3" y1="602.8" x2="54" y2="602.8" stroke="#000" stroke-width="1.4" />
<text x="47.8" y="607.1" font-size="12" fill="#000" text-anchor="end" >0</text>
<line x1="52" y1="583.3" x2="54" y2="583.3" stroke="#000" stroke-width="1.4" />
<line x1="50.3" y1="563.8" x2="54" y2="563.8" stroke="#000" stroke-width="1.4" />
<text x="47.8" y="568.1" font-size="12" fill="#000" text-anchor="end" >5</text>
<line x1="52" y1="544.3" x2="54" y2="544.3" stroke="#000" stroke-width="1.4" />
<line x1="50.3" y1="524.8" x2="54" y2="524.8" stroke="#000" stroke-width="1.4" />
<text x="48.4" y="529.2" font-size="12.4" fill="#000" text-anchor="end" letter-spacing="0.6">10</text>
<line x1="52" y1="505.3" x2="54" y2="505.3" stroke="#000" stroke-width="1.4" />
<line x1="50.3" y1="485.8" x2="54" y2="485.8" stroke="#000" stroke-width="1.4" />
<text x="48.4" y="490.2" font-size="12.4" fill="#000" text-anchor="end" letter-spacing="0.6">15</text>
<line x1="52" y1="466.3" x2="54" y2="466.3" stroke="#000" stroke-width="1.4" />
<line x1="50.3" y1="446.8" x2="54" y2="446.8" stroke="#000" stroke-width="1.4" />
<text x="48.4" y="451.2" font-size="12.4" fill="#000" text-anchor="end" letter-spacing="0.6">20</text>
<line x1="52" y1="427.3" x2="54" y2="427.3" stroke="#000" stroke-width="1.4" />
<line x1="50.3" y1="407.8" x2="54" y2="407.8" stroke="#000" stroke-width="1.4" />
<text x="48.4" y="412.2" font-size="12.4" fill="#000" text-anchor="end" letter-spacing="0.6">25</text>
<line x1="52" y1="388.3" x2="54" y2="388.3" stroke="#000" stroke-width="1.4" />
<line x1="50.3" y1="368.8" x2="54" y2="368.8" stroke="#000" stroke-width="1.4" />
<text x="48.4" y="373.2" font-size="12.4" fill="#000" text-anchor="end" letter-spacing="0.6">30</text>
<line x1="52" y1="349.3" x2="54" y2="349.3" stroke="#000" stroke-width="1.4" />
<line x1="78.4" y1="602.8" x2="78.4" y2="606.6" stroke="#000" stroke-width="1.4" />
<text x="78.4" y="620" font-size="12.2" fill="#000" text-anchor="middle" letter-spacing="0.2">400</text>
<line x1="109.16" y1="602.8" x2="109.16" y2="604.8" stroke="#000" stroke-width="1.4" />
<line x1="139.92" y1="602.8" x2="139.92" y2="606.6" stroke="#000" stroke-width="1.4" />
<text x="139.92" y="620" font-size="12.2" fill="#000" text-anchor="middle" letter-spacing="0.2">450</text>
<line x1="170.67" y1="602.8" x2="170.67" y2="604.8" stroke="#000" stroke-width="1.4" />
<line x1="201.43" y1="602.8" x2="201.43" y2="606.6" stroke="#000" stroke-width="1.4" />
<text x="201.43" y="620" font-size="12.2" fill="#000" text-anchor="middle" letter-spacing="0.2">500</text>
<line x1="232.19" y1="602.8" x2="232.19" y2="604.8" stroke="#000" stroke-width="1.4" />
<line x1="262.94" y1="602.8" x2="262.94" y2="606.6" stroke="#000" stroke-width="1.4" />
<text x="262.94" y="620" font-size="12.2" fill="#000" text-anchor="middle" letter-spacing="0.2">550</text>
<line x1="293.7" y1="602.8" x2="293.7" y2="604.8" stroke="#000" stroke-width="1.4" />
<line x1="324.46" y1="602.8" x2="324.46" y2="606.6" stroke="#000" stroke-width="1.4" />
<text x="324.46" y="620" font-size="12.2" fill="#000" text-anchor="middle" letter-spacing="0.2">600</text>
<text x="189.2" y="635.5" font-size="16" fill="#000" text-anchor="middle" letter-spacing="0.18">Wavelength (nm)</text>
<text x="29.2" y="467.9" font-size="16" fill="#000" text-anchor="middle" transform="rotate(-90 29.2 467.9)"  letter-spacing="0.17">Quantum efficiency (%)</text>
<text x="342.6" y="467.85" font-size="16" fill="#3DBE6B" text-anchor="middle" transform="rotate(-90 342.6 467.85)"  letter-spacing="0.16">Absorption Intensity (a.u.)</text>
<rect x="214.4" y="337.4" width="28.4" height="13.9" fill="#6798CC" />
<rect x="214.4" y="352.8" width="28.4" height="13.8" fill="#FD9734" />
<text x="246" y="348.6" font-size="12.6" fill="#3A64A0" text-anchor="start" >Hydrogen</text>
<text x="246" y="363.4" font-size="12.6" fill="#F99A3A" text-anchor="start" >Pyruvic acid</text>
<line x1="89" y1="367.9" x2="72.75" y2="367.9" stroke="#2F5D95" stroke-width="1.7" />
<polygon points="63.3,367.9 73.8,365.3 73.8,370.5" fill="#2F5D95"/>
<line x1="89" y1="374.5" x2="72.45" y2="374.5" stroke="#FA9632" stroke-width="1.7" />
<polygon points="63,374.5 73.5,371.9 73.5,377.1" fill="#FA9632"/>
<line x1="224.6" y1="422.4" x2="241.55" y2="422.4" stroke="#3DBE6B" stroke-width="1.6" />
<polygon points="251,422.4 240.5,419.9 240.5,424.9" fill="#3DBE6B"/>
<text x="353.1" y="345.3" font-size="24" fill="#000" text-anchor="start" >d</text>
<rect x="434.3" y="546.06" width="2.65" height="56.74" fill="#D6D6DA" />
<rect x="442.75" y="489.9" width="2.65" height="112.9" fill="#D6D6DA" />
<rect x="451.2" y="442.91" width="2.65" height="159.89" fill="#D6D6DA" />
<rect x="476.5" y="558.4" width="2.65" height="44.4" fill="#D6D6DA" />
<rect x="484.95" y="518.37" width="2.65" height="84.43" fill="#D6D6DA" />
<rect x="493.4" y="483.25" width="2.65" height="119.55" fill="#D6D6DA" />
<rect x="518.7" y="559.82" width="2.65" height="42.98" fill="#D6D6DA" />
<rect x="527.15" y="520.43" width="2.65" height="82.37" fill="#D6D6DA" />
<rect x="535.6" y="474.08" width="2.65" height="128.72" fill="#D6D6DA" />
<rect x="560.9" y="554.28" width="2.65" height="48.52" fill="#D6D6DA" />
<rect x="569.35" y="505.72" width="2.65" height="97.08" fill="#D6D6DA" />
<rect x="577.8" y="453.98" width="2.65" height="148.82" fill="#D6D6DA" />
<rect x="603.1" y="550.49" width="2.65" height="52.31" fill="#D6D6DA" />
<rect x="611.55" y="504.45" width="2.65" height="98.35" fill="#D6D6DA" />
<rect x="620" y="452.72" width="2.65" height="150.08" fill="#D6D6DA" />
<rect x="645.3" y="536.09" width="2.65" height="66.71" fill="#D6D6DA" />
<rect x="653.75" y="480.4" width="2.65" height="122.4" fill="#D6D6DA" />
<rect x="662.2" y="430.1" width="2.65" height="172.7" fill="#D6D6DA" />
<rect x="428.2" y="573.06" width="6.4" height="29.74" fill="#B9D2EC" />
<rect x="428.2" y="545.06" width="6.4" height="28" fill="#FDD4A8" />
<rect x="428.75" y="545.61" width="5.3" height="57.19" fill="none" stroke="#111" stroke-width="1.1"/>
<line x1="428.2" y1="573.06" x2="434.6" y2="573.06" stroke="#000" stroke-width="1" />
<rect x="436.65" y="543.47" width="6.4" height="59.33" fill="#B9D2EC" />
<rect x="436.65" y="488.9" width="6.4" height="54.58" fill="#FDD4A8" />
<rect x="437.2" y="489.45" width="5.3" height="113.35" fill="none" stroke="#111" stroke-width="1.1"/>
<line x1="436.65" y1="543.47" x2="443.05" y2="543.47" stroke="#000" stroke-width="1" />
<rect x="445.1" y="519.74" width="6.4" height="83.06" fill="#B9D2EC" />
<rect x="445.1" y="441.91" width="6.4" height="77.83" fill="#FDD4A8" />
<rect x="445.65" y="442.46" width="5.3" height="160.34" fill="none" stroke="#111" stroke-width="1.1"/>
<line x1="445.1" y1="519.74" x2="451.5" y2="519.74" stroke="#000" stroke-width="1" />
<rect x="453.55" y="496.49" width="6.4" height="106.31" fill="#B9D2EC" />
<rect x="453.55" y="396.98" width="6.4" height="99.51" fill="#FDD4A8" />
<rect x="454.1" y="397.53" width="5.3" height="205.27" fill="none" stroke="#111" stroke-width="1.1"/>
<line x1="453.55" y1="496.49" x2="459.95" y2="496.49" stroke="#000" stroke-width="1" />
<rect x="470.4" y="579.07" width="6.4" height="23.73" fill="#CCD7E3" />
<rect x="470.4" y="557.4" width="6.4" height="21.67" fill="#FDB46C" />
<rect x="470.95" y="557.95" width="5.3" height="44.85" fill="none" stroke="#111" stroke-width="1.1"/>
<line x1="470.4" y1="579.07" x2="476.8" y2="579.07" stroke="#000" stroke-width="1" />
<rect x="478.85" y="558.5" width="6.4" height="44.3" fill="#CCD7E3" />
<rect x="478.85" y="517.37" width="6.4" height="41.13" fill="#FDB46C" />
<rect x="479.4" y="517.92" width="5.3" height="84.88" fill="none" stroke="#111" stroke-width="1.1"/>
<line x1="478.85" y1="558.5" x2="485.25" y2="558.5" stroke="#000" stroke-width="1" />
<rect x="487.3" y="540.31" width="6.4" height="62.49" fill="#CCD7E3" />
<rect x="487.3" y="482.25" width="6.4" height="58.06" fill="#FDB46C" />
<rect x="487.85" y="482.8" width="5.3" height="120" fill="none" stroke="#111" stroke-width="1.1"/>
<line x1="487.3" y1="540.31" x2="493.7" y2="540.31" stroke="#000" stroke-width="1" />
<rect x="495.75" y="517.37" width="6.4" height="85.43" fill="#CCD7E3" />
<rect x="495.75" y="437.48" width="6.4" height="79.89" fill="#FDB46C" />
<rect x="496.3" y="438.03" width="5.3" height="164.77" fill="none" stroke="#111" stroke-width="1.1"/>
<line x1="495.75" y1="517.37" x2="502.15" y2="517.37" stroke="#000" stroke-width="1" />
<rect x="512.6" y="579.86" width="6.4" height="22.94" fill="#6394CF" />
<rect x="512.6" y="558.82" width="6.4" height="21.04" fill="#FD9834" />
<rect x="513.15" y="559.37" width="5.3" height="43.43" fill="none" stroke="#111" stroke-width="1.1"/>
<line x1="512.6" y1="579.86" x2="519" y2="579.86" stroke="#000" stroke-width="1" />
<rect x="521.05" y="559.77" width="6.4" height="43.03" fill="#6394CF" />
<rect x="521.05" y="519.43" width="6.4" height="40.34" fill="#FD9834" />
<rect x="521.6" y="519.98" width="5.3" height="82.82" fill="none" stroke="#111" stroke-width="1.1"/>
<line x1="521.05" y1="559.77" x2="527.45" y2="559.77" stroke="#000" stroke-width="1" />
<rect x="529.5" y="535.56" width="6.4" height="67.24" fill="#6394CF" />
<rect x="529.5" y="473.08" width="6.4" height="62.49" fill="#FD9834" />
<rect x="530.05" y="473.63" width="5.3" height="129.17" fill="none" stroke="#111" stroke-width="1.1"/>
<line x1="529.5" y1="535.56" x2="535.9" y2="535.56" stroke="#000" stroke-width="1" />
<rect x="537.95" y="511.04" width="6.4" height="91.76" fill="#6394CF" />
<rect x="537.95" y="425.3" width="6.4" height="85.74" fill="#FD9834" />
<rect x="538.5" y="425.85" width="5.3" height="176.95" fill="none" stroke="#111" stroke-width="1.1"/>
<line x1="537.95" y1="511.04" x2="544.35" y2="511.04" stroke="#000" stroke-width="1" />
<rect x="554.8" y="577.49" width="6.4" height="25.31" fill="#336BA5" />
<rect x="554.8" y="553.28" width="6.4" height="24.2" fill="#D9710F" />
<rect x="555.35" y="553.83" width="5.3" height="48.97" fill="none" stroke="#111" stroke-width="1.1"/>
<line x1="554.8" y1="577.49" x2="561.2" y2="577.49" stroke="#000" stroke-width="1" />
<rect x="563.25" y="551.86" width="6.4" height="50.94" fill="#336BA5" />
<rect x="563.25" y="504.72" width="6.4" height="47.14" fill="#D9710F" />
<rect x="563.8" y="505.27" width="5.3" height="97.53" fill="none" stroke="#111" stroke-width="1.1"/>
<line x1="563.25" y1="551.86" x2="569.65" y2="551.86" stroke="#000" stroke-width="1" />
<rect x="571.7" y="525.28" width="6.4" height="77.52" fill="#336BA5" />
<rect x="571.7" y="452.98" width="6.4" height="72.3" fill="#D9710F" />
<rect x="572.25" y="453.53" width="5.3" height="149.27" fill="none" stroke="#111" stroke-width="1.1"/>
<line x1="571.7" y1="525.28" x2="578.1" y2="525.28" stroke="#000" stroke-width="1" />
<rect x="580.15" y="494.43" width="6.4" height="108.37" fill="#336BA5" />
<rect x="580.15" y="393.18" width="6.4" height="101.25" fill="#D9710F" />
<rect x="580.7" y="393.73" width="5.3" height="209.06" fill="none" stroke="#111" stroke-width="1.1"/>
<line x1="580.15" y1="494.43" x2="586.55" y2="494.43" stroke="#000" stroke-width="1" />
<rect x="597" y="575.12" width="6.4" height="27.68" fill="#264E7C" />
<rect x="597" y="549.49" width="6.4" height="25.63" fill="#D56E0E" />
<rect x="597.55" y="550.04" width="5.3" height="52.76" fill="none" stroke="#111" stroke-width="1.1"/>
<line x1="597" y1="575.12" x2="603.4" y2="575.12" stroke="#000" stroke-width="1" />
<rect x="605.45" y="551.07" width="6.4" height="51.73" fill="#264E7C" />
<rect x="605.45" y="503.45" width="6.4" height="47.62" fill="#D56E0E" />
<rect x="606" y="504" width="5.3" height="98.8" fill="none" stroke="#111" stroke-width="1.1"/>
<line x1="605.45" y1="551.07" x2="611.85" y2="551.07" stroke="#000" stroke-width="1" />
<rect x="613.9" y="524.49" width="6.4" height="78.31" fill="#264E7C" />
<rect x="613.9" y="451.72" width="6.4" height="72.77" fill="#D56E0E" />
<rect x="614.45" y="452.27" width="5.3" height="150.53" fill="none" stroke="#111" stroke-width="1.1"/>
<line x1="613.9" y1="524.49" x2="620.3" y2="524.49" stroke="#000" stroke-width="1" />
<rect x="622.35" y="495.22" width="6.4" height="107.58" fill="#264E7C" />
<rect x="622.35" y="395.56" width="6.4" height="99.67" fill="#D56E0E" />
<rect x="622.9" y="396.11" width="5.3" height="206.69" fill="none" stroke="#111" stroke-width="1.1"/>
<line x1="622.35" y1="495.22" x2="628.75" y2="495.22" stroke="#000" stroke-width="1" />
<rect x="639.2" y="567.68" width="6.4" height="35.12" fill="#1A2E48" />
<rect x="639.2" y="535.09" width="6.4" height="32.59" fill="#572B0A" />
<rect x="639.75" y="535.64" width="5.3" height="67.16" fill="none" stroke="#111" stroke-width="1.1"/>
<line x1="639.2" y1="567.68" x2="645.6" y2="567.68" stroke="#000" stroke-width="1" />
<rect x="647.65" y="539.05" width="6.4" height="63.75" fill="#1A2E48" />
<rect x="647.65" y="479.4" width="6.4" height="59.64" fill="#572B0A" />
<rect x="648.2" y="479.95" width="5.3" height="122.85" fill="none" stroke="#111" stroke-width="1.1"/>
<line x1="647.65" y1="539.05" x2="654.05" y2="539.05" stroke="#000" stroke-width="1" />
<rect x="656.1" y="513.1" width="6.4" height="89.7" fill="#1A2E48" />
<rect x="656.1" y="429.1" width="6.4" height="84" fill="#572B0A" />
<rect x="656.65" y="429.65" width="5.3" height="173.15" fill="none" stroke="#111" stroke-width="1.1"/>
<line x1="656.1" y1="513.1" x2="662.5" y2="513.1" stroke="#000" stroke-width="1" />
<rect x="664.55" y="480.19" width="6.4" height="122.61" fill="#1A2E48" />
<rect x="664.55" y="365.5" width="6.4" height="114.69" fill="#572B0A" />
<rect x="665.1" y="366.05" width="5.3" height="236.75" fill="none" stroke="#111" stroke-width="1.1"/>
<line x1="664.55" y1="480.19" x2="670.95" y2="480.19" stroke="#000" stroke-width="1" />
<rect x="414.9" y="333.6" width="269.4" height="269.3" fill="none" stroke="#000" stroke-width="1.5"/>
<line x1="411" y1="602.8" x2="414.7" y2="602.8" stroke="#000" stroke-width="1.4" />
<text x="408.6" y="607.1" font-size="12" fill="#000" text-anchor="end" >0</text>
<line x1="412.7" y1="586.98" x2="414.7" y2="586.98" stroke="#000" stroke-width="1.4" />
<line x1="411" y1="571.16" x2="414.7" y2="571.16" stroke="#000" stroke-width="1.4" />
<text x="408.6" y="575.46" font-size="12" fill="#000" text-anchor="end" >2</text>
<line x1="412.7" y1="555.34" x2="414.7" y2="555.34" stroke="#000" stroke-width="1.4" />
<line x1="411" y1="539.52" x2="414.7" y2="539.52" stroke="#000" stroke-width="1.4" />
<text x="408.6" y="543.82" font-size="12" fill="#000" text-anchor="end" >4</text>
<line x1="412.7" y1="523.7" x2="414.7" y2="523.7" stroke="#000" stroke-width="1.4" />
<line x1="411" y1="507.88" x2="414.7" y2="507.88" stroke="#000" stroke-width="1.4" />
<text x="408.6" y="512.18" font-size="12" fill="#000" text-anchor="end" >6</text>
<line x1="412.7" y1="492.06" x2="414.7" y2="492.06" stroke="#000" stroke-width="1.4" />
<line x1="411" y1="476.24" x2="414.7" y2="476.24" stroke="#000" stroke-width="1.4" />
<text x="408.6" y="480.54" font-size="12" fill="#000" text-anchor="end" >8</text>
<line x1="412.7" y1="460.42" x2="414.7" y2="460.42" stroke="#000" stroke-width="1.4" />
<line x1="411" y1="444.6" x2="414.7" y2="444.6" stroke="#000" stroke-width="1.4" />
<text x="409.2" y="449" font-size="12.4" fill="#000" text-anchor="end" letter-spacing="0.6">10</text>
<line x1="412.7" y1="428.78" x2="414.7" y2="428.78" stroke="#000" stroke-width="1.4" />
<line x1="411" y1="412.96" x2="414.7" y2="412.96" stroke="#000" stroke-width="1.4" />
<text x="409.2" y="417.36" font-size="12.4" fill="#000" text-anchor="end" letter-spacing="0.6">12</text>
<line x1="412.7" y1="397.14" x2="414.7" y2="397.14" stroke="#000" stroke-width="1.4" />
<line x1="411" y1="381.32" x2="414.7" y2="381.32" stroke="#000" stroke-width="1.4" />
<text x="409.2" y="385.72" font-size="12.4" fill="#000" text-anchor="end" letter-spacing="0.6">14</text>
<line x1="412.7" y1="365.5" x2="414.7" y2="365.5" stroke="#000" stroke-width="1.4" />
<line x1="411" y1="349.68" x2="414.7" y2="349.68" stroke="#000" stroke-width="1.4" />
<text x="409.2" y="354.08" font-size="12.4" fill="#000" text-anchor="end" letter-spacing="0.6">16</text>
<text x="444.07" y="622.2" font-size="16" fill="#000" text-anchor="middle">1<tspan font-size="10.4" dy="-6.3">st</tspan></text>
<text x="486.27" y="622.2" font-size="16" fill="#000" text-anchor="middle">2<tspan font-size="10.4" dy="-6.3">nd</tspan></text>
<text x="528.48" y="622.2" font-size="16" fill="#000" text-anchor="middle">3<tspan font-size="10.4" dy="-6.3">rd</tspan></text>
<text x="570.67" y="622.2" font-size="16" fill="#000" text-anchor="middle">4<tspan font-size="10.4" dy="-6.3">th</tspan></text>
<text x="612.88" y="622.2" font-size="16" fill="#000" text-anchor="middle">5<tspan font-size="10.4" dy="-6.3">th</tspan></text>
<text x="655.08" y="622.2" font-size="16" fill="#000" text-anchor="middle">6<tspan font-size="10.4" dy="-6.3">th</tspan></text>
<text x="390.8" y="468.4" font-size="16" fill="#000" text-anchor="middle" transform="rotate(-90 390.8 468.4)"  letter-spacing="0.17">Products yield (mmol·g<tspan font-size="10.4" dy="-6">-1</tspan><tspan dy="6">·h</tspan><tspan font-size="10.4" dy="-6">-1</tspan><tspan dy="6">)</tspan></text>
<defs><linearGradient id="gp" x1="0" x2="1" y1="0" y2="0"><stop offset="0" stop-color="#FCDDB8"/><stop offset="0.45" stop-color="#E9A983"/><stop offset="1" stop-color="#B8441A"/></linearGradient><linearGradient id="gh" x1="0" x2="1" y1="0" y2="0"><stop offset="0" stop-color="#B8DCEE"/><stop offset="0.45" stop-color="#8FB0C2"/><stop offset="1" stop-color="#1E2836"/></linearGradient></defs>
<rect x="436.6" y="338.3" width="32" height="12.8" fill="url(#gp)" stroke="#7a6a60" stroke-width="0.6"/>
<rect x="436.6" y="356.7" width="32" height="12.8" fill="url(#gh)" stroke="#6a7078" stroke-width="0.6"/>
<text x="474" y="348.7" font-size="12.6" fill="#F27C3C" text-anchor="start" >Pyruvic acid</text>
<text x="474" y="367" font-size="12.6" fill="#5D7FA6" text-anchor="start" >Hydrogen</text>
</svg>
</body></html>
